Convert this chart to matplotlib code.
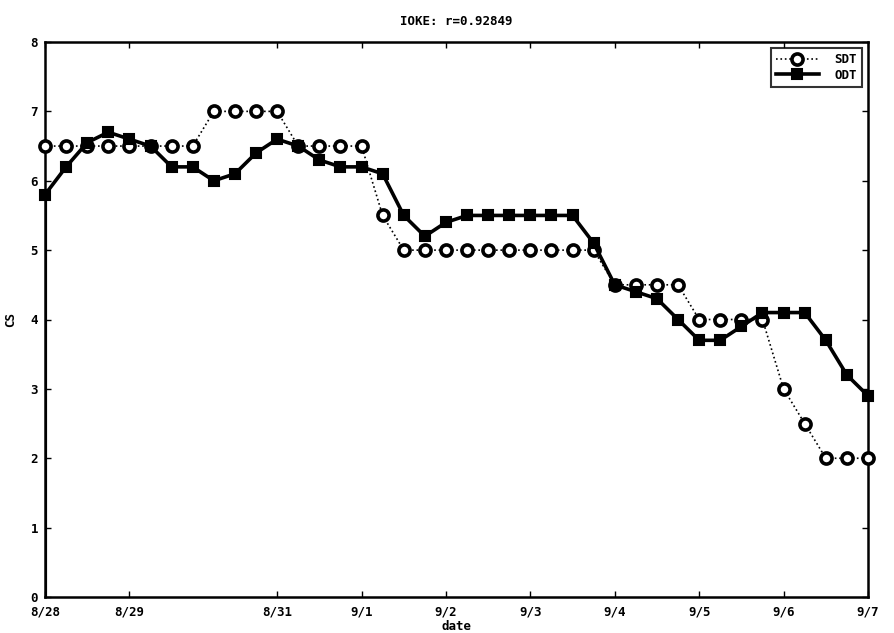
import matplotlib
matplotlib.use("Agg")
import matplotlib.pyplot as plt
import numpy as np

title = "IOKE: r=0.92849"
tick_idx = [0, 4, 11, 15, 19, 23, 27, 31, 35, 39]
tick_labels = ["8/28", "8/29", "8/31", "9/1", "9/2", "9/3", "9/4", "9/5", "9/6", "9/7"]

sdt = [6.5, 6.5, 6.5, 6.5, 6.5, 6.5, 6.5, 6.5, 7, 7,
       7, 7, 6.5, 6.5, 6.5, 6.5, 5.5, 5, 5, 5,
       5, 5, 5, 5, 5, 5, 5, 4.5, 4.5, 4.5,
       4.5, 4, 4, 4, 4, 3, 2.5, 2, 2, 2]
odt = [5.8, 6.2, 6.55, 6.7, 6.6, 6.5, 6.2, 6.2, 6.0, 6.1,
       6.4, 6.6, 6.5, 6.3, 6.2, 6.2, 6.1, 5.5, 5.2, 5.4,
       5.5, 5.5, 5.5, 5.5, 5.5, 5.5, 5.1, 4.5, 4.4, 4.3,
       4.0, 3.7, 3.7, 3.9, 4.1, 4.1, 4.1, 3.7, 3.2, 2.9]

x = np.arange(len(sdt))

fig = plt.figure(figsize=(8.94, 6.33), dpi=100)
ax = fig.add_axes([45/894, 36/633, 823/894, 555/633])

font = {"family": "DejaVu Sans Mono", "weight": "bold", "size": 9}

ax.vlines(x[0], 0, odt[0], color="black", lw=3, zorder=2)
ax.plot(x, sdt, linestyle=":", color="black", lw=1.2, marker="o", ms=8,
        mfc="white", mec="black", mew=2.6, label="SDT", zorder=3, clip_on=False)
ax.plot(x, odt, linestyle="-", color="black", lw=2.6, marker="s", ms=7.5,
        mfc="black", mec="black", mew=1.5, label="ODT", zorder=4, clip_on=False)

ax.set_xlim(0, 39)
ax.set_ylim(0, 8)
ax.set_xticks(tick_idx)
ax.set_xticklabels(tick_labels, fontdict=font)
ax.set_yticks(range(0, 9))
ax.set_yticklabels([str(v) for v in range(0, 9)], fontdict=font)
ax.tick_params(axis="x", direction="in", length=4, width=1, top=True, pad=6)
ax.tick_params(axis="y", direction="in", length=4, width=1, right=True, pad=5)
for s in ax.spines.values():
    s.set_linewidth(1.8)

ax.set_title(title, fontdict=font, pad=12)
ax.set_xlabel("date", fontdict=font, labelpad=1)
ax.set_ylabel("CS", fontdict=font, labelpad=10)

leg = ax.legend(loc="upper right", prop={"family": "DejaVu Sans Mono", "weight": "bold", "size": 9},
                frameon=True, fancybox=False, edgecolor="black", borderpad=0.4,
                handlelength=3.5, labelspacing=0.2, borderaxespad=0.5, handletextpad=1.2)
leg.get_frame().set_linewidth(1.5)

fig.savefig("out.png", dpi=100)
